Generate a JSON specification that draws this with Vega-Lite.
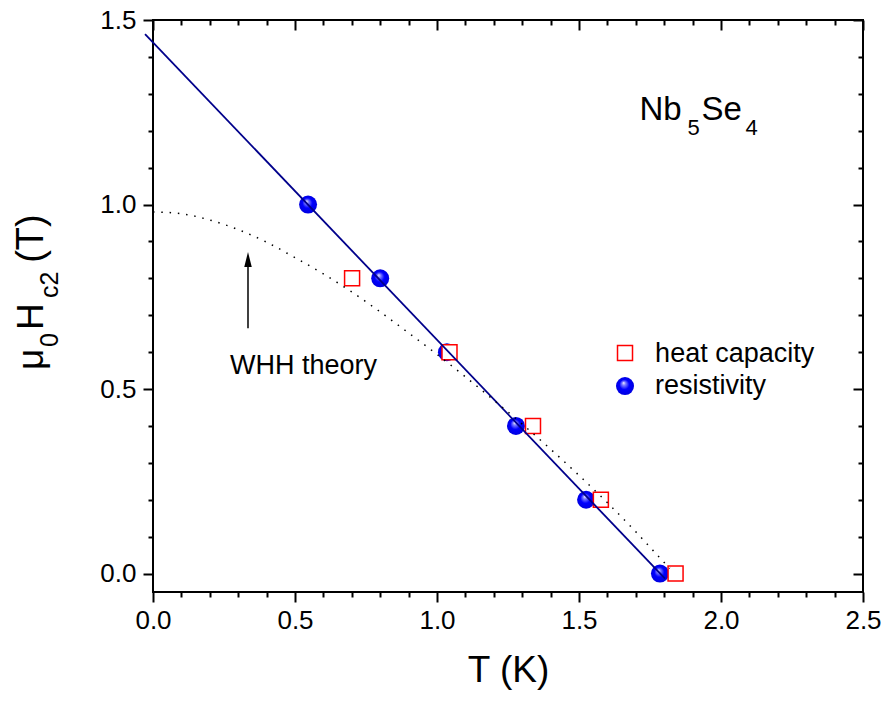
{
  "$schema": "https://vega.github.io/schema/vega-lite/v6.json",
  "width": 710,
  "height": 572,
  "autosize": {"type": "none"},
  "padding": {"left": 153, "top": 20, "right": 21, "bottom": 110},
  "background": "white",
  "config": {
    "view": {"stroke": "black", "strokeWidth": 2},
    "axis": {
      "domain": false,
      "grid": false,
      "tickColor": "black",
      "tickWidth": 2,
      "labelColor": "black",
      "labelFont": "Liberation Sans",
      "labelFontSize": 26,
      "labelFlush": false,
      "labelOverlap": false,
      "labelBound": false,
      "titleFont": "Liberation Sans",
      "titleFontWeight": "normal",
      "titleColor": "black"
    },
    "text": {"font": "Liberation Sans", "color": "black", "align": "left", "baseline": "alphabetic"}
  },
  "resolve": {"axis": {"x": "independent", "y": "independent"}},
  "datasets": {
    "res": [
      {"T": 0.546, "H": 1.0},
      {"T": 0.80, "H": 0.80},
      {"T": 1.035, "H": 0.60},
      {"T": 1.278, "H": 0.40},
      {"T": 1.525, "H": 0.20},
      {"T": 1.785, "H": 0.0}
    ],
    "hc": [
      {"T": 0.701, "H": 0.80},
      {"T": 1.044, "H": 0.60},
      {"T": 1.338, "H": 0.40},
      {"T": 1.577, "H": 0.20},
      {"T": 1.84, "H": 0.0}
    ],
    "fit": [
      {"T": -0.028, "H": 1.462},
      {"T": 1.803, "H": -0.014}
    ],
    "whh": [
      {"T": 0.0, "H": 0.98},
      {"T": 0.1, "H": 0.975},
      {"T": 0.2, "H": 0.958},
      {"T": 0.3, "H": 0.932},
      {"T": 0.4, "H": 0.898},
      {"T": 0.5, "H": 0.856},
      {"T": 0.6, "H": 0.812},
      {"T": 0.7, "H": 0.763},
      {"T": 0.8, "H": 0.709},
      {"T": 0.9, "H": 0.652},
      {"T": 1.0, "H": 0.594},
      {"T": 1.1, "H": 0.533},
      {"T": 1.2, "H": 0.47},
      {"T": 1.3, "H": 0.405},
      {"T": 1.4, "H": 0.337},
      {"T": 1.5, "H": 0.266},
      {"T": 1.6, "H": 0.192},
      {"T": 1.7, "H": 0.113},
      {"T": 1.8, "H": 0.03},
      {"T": 1.82, "H": 0.014}
    ],
    "one": [{}]
  },
  "layer": [
    {
      "data": {"name": "res"},
      "mark": {
        "type": "point", "shape": "circle", "filled": true, "size": 324, "opacity": 1, "strokeWidth": 0,
        "fill": {"gradient": "radial", "x1": 0.42, "y1": 0.32, "r1": 0, "x2": 0.5, "y2": 0.5, "r2": 0.5,
          "stops": [{"offset": 0, "color": "#f4f4ff"}, {"offset": 0.2, "color": "#8080ff"}, {"offset": 0.55, "color": "#0000ff"}, {"offset": 1, "color": "#0000e0"}]}
      },
      "encoding": {
        "x": {"field": "T", "type": "quantitative",
          "scale": {"domain": [0, 2.5], "nice": false, "zero": false},
          "axis": {"orient": "bottom", "title": "T (K)", "titleFontSize": 37, "titlePadding": 19,
            "labelFontSize": 26, "labelFont": "Liberation Sans",
            "values": [0,0.1,0.2,0.3,0.4,0.5,0.6,0.7,0.8,0.9,1.0,1.1,1.2,1.3,1.4,1.5,1.6,1.7,1.8,1.9,2.0,2.1,2.2,2.3,2.4,2.5],
            "labelExpr": "abs(datum.value*2 - round(datum.value*2)) < 0.01 ? format(datum.value, '.1f') : ''",
            "tickSize": {"condition": {"test": "abs(datum.value*2 - round(datum.value*2)) < 0.01", "value": 10}, "value": 5},
            "labelPadding": 5}},
        "y": {"field": "H", "type": "quantitative",
          "scale": {"domain": [-0.05, 1.5], "nice": false, "zero": false},
          "axis": {"orient": "left", "title": null,
            "labelFontSize": 26, "labelFont": "Liberation Sans",
            "values": [0,0.1,0.2,0.3,0.4,0.5,0.6,0.7,0.8,0.9,1.0,1.1,1.2,1.3,1.4,1.5],
            "labelExpr": "abs(datum.value*2 - round(datum.value*2)) < 0.01 ? format(datum.value, '.1f') : ''",
            "tickSize": {"condition": {"test": "abs(datum.value*2 - round(datum.value*2)) < 0.01", "value": 10}, "value": 5},
            "labelPadding": 7}}
      }
    },
    {
      "data": {"name": "hc"},
      "mark": {"type": "point", "shape": "square", "filled": true, "fill": "white", "stroke": "#ff0000", "strokeWidth": 1.5, "size": 225, "opacity": 1},
      "encoding": {
        "x": {"field": "T", "type": "quantitative",
          "scale": {"domain": [0, 2.5], "nice": false, "zero": false},
          "axis": {"orient": "top", "title": null, "labels": false,
            "values": [0,0.1,0.2,0.3,0.4,0.5,0.6,0.7,0.8,0.9,1.0,1.1,1.2,1.3,1.4,1.5,1.6,1.7,1.8,1.9,2.0,2.1,2.2,2.3,2.4,2.5],
            "tickSize": {"condition": {"test": "abs(datum.value*2 - round(datum.value*2)) < 0.01", "value": -10}, "value": -5}}},
        "y": {"field": "H", "type": "quantitative",
          "scale": {"domain": [-0.05, 1.5], "nice": false, "zero": false},
          "axis": {"orient": "right", "title": null, "labels": false,
            "values": [0,0.1,0.2,0.3,0.4,0.5,0.6,0.7,0.8,0.9,1.0,1.1,1.2,1.3,1.4,1.5],
            "tickSize": {"condition": {"test": "abs(datum.value*2 - round(datum.value*2)) < 0.01", "value": -10}, "value": -5}}}
      }
    },
    {
      "data": {"name": "fit"},
      "mark": {"type": "line", "color": "#00008b", "strokeWidth": 1.8},
      "encoding": {
        "x": {"field": "T", "type": "quantitative", "axis": null},
        "y": {"field": "H", "type": "quantitative", "axis": null}
      }
    },
    {
      "data": {"name": "whh"},
      "mark": {"type": "line", "color": "black", "strokeWidth": 1.5, "strokeDash": [1.5, 6.8], "interpolate": "monotone"},
      "encoding": {
        "x": {"field": "T", "type": "quantitative", "axis": null},
        "y": {"field": "H", "type": "quantitative", "axis": null}
      }
    },
    {
      "data": {"name": "one"},
      "mark": {"type": "rule", "color": "black", "strokeWidth": 1.5},
      "encoding": {
        "x": {"datum": 0.3345, "type": "quantitative", "axis": null},
        "y": {"datum": 0.665, "type": "quantitative", "axis": null},
        "y2": {"datum": 0.844}
      }
    },
    {
      "data": {"name": "one"},
      "mark": {"type": "point", "shape": "M0,-1L0.5,1L-0.5,1Z", "filled": true, "color": "black", "size": 225, "opacity": 1, "strokeWidth": 0},
      "encoding": {
        "x": {"datum": 0.3345, "type": "quantitative", "axis": null},
        "y": {"datum": 0.851, "type": "quantitative", "axis": null}
      }
    },
    {
      "data": {"name": "one"},
      "mark": {"type": "text", "text": "WHH theory", "fontSize": 27},
      "encoding": {
        "x": {"datum": 0.271, "type": "quantitative", "axis": null},
        "y": {"datum": 0.5407, "type": "quantitative", "axis": null}
      }
    },
    {
      "data": {"name": "one"},
      "mark": {"type": "text", "text": "Nb", "fontSize": 33},
      "encoding": {
        "x": {"datum": 1.713, "type": "quantitative", "axis": null},
        "y": {"datum": 1.229, "type": "quantitative", "axis": null}
      }
    },
    {
      "data": {"name": "one"},
      "mark": {"type": "text", "text": "5", "fontSize": 22},
      "encoding": {
        "x": {"datum": 1.882, "type": "quantitative", "axis": null},
        "y": {"datum": 1.188, "type": "quantitative", "axis": null}
      }
    },
    {
      "data": {"name": "one"},
      "mark": {"type": "text", "text": "Se", "fontSize": 33},
      "encoding": {
        "x": {"datum": 1.931, "type": "quantitative", "axis": null},
        "y": {"datum": 1.229, "type": "quantitative", "axis": null}
      }
    },
    {
      "data": {"name": "one"},
      "mark": {"type": "text", "text": "4", "fontSize": 22},
      "encoding": {
        "x": {"datum": 2.086, "type": "quantitative", "axis": null},
        "y": {"datum": 1.188, "type": "quantitative", "axis": null}
      }
    },
    {
      "data": {"name": "one"},
      "mark": {"type": "point", "shape": "square", "filled": true, "fill": "white", "stroke": "#ff0000", "strokeWidth": 1.5, "size": 225, "opacity": 1},
      "encoding": {
        "x": {"datum": 1.662, "type": "quantitative", "axis": null},
        "y": {"datum": 0.5976, "type": "quantitative", "axis": null}
      }
    },
    {
      "data": {"name": "one"},
      "mark": {
        "type": "point", "shape": "circle", "filled": true, "size": 324, "opacity": 1, "strokeWidth": 0,
        "fill": {"gradient": "radial", "x1": 0.42, "y1": 0.32, "r1": 0, "x2": 0.5, "y2": 0.5, "r2": 0.5,
          "stops": [{"offset": 0, "color": "#f4f4ff"}, {"offset": 0.2, "color": "#8080ff"}, {"offset": 0.55, "color": "#0000ff"}, {"offset": 1, "color": "#0000e0"}]}
      },
      "encoding": {
        "x": {"datum": 1.662, "type": "quantitative", "axis": null},
        "y": {"datum": 0.508, "type": "quantitative", "axis": null}
      }
    },
    {
      "data": {"name": "one"},
      "mark": {"type": "text", "text": "heat capacity", "fontSize": 27},
      "encoding": {
        "x": {"datum": 1.768, "type": "quantitative", "axis": null},
        "y": {"datum": 0.573, "type": "quantitative", "axis": null}
      }
    },
    {
      "data": {"name": "one"},
      "mark": {"type": "text", "text": "resistivity", "fontSize": 27},
      "encoding": {
        "x": {"datum": 1.768, "type": "quantitative", "axis": null},
        "y": {"datum": 0.4865, "type": "quantitative", "axis": null}
      }
    },
    {
      "data": {"name": "one"},
      "mark": {"type": "text", "text": "μ", "fontSize": 37, "angle": 270},
      "encoding": {
        "x": {"datum": -0.387, "type": "quantitative", "axis": null},
        "y": {"datum": 0.5515, "type": "quantitative", "axis": null}
      }
    },
    {
      "data": {"name": "one"},
      "mark": {"type": "text", "text": "0", "fontSize": 25, "angle": 270},
      "encoding": {
        "x": {"datum": -0.335, "type": "quantitative", "axis": null},
        "y": {"datum": 0.614, "type": "quantitative", "axis": null}
      }
    },
    {
      "data": {"name": "one"},
      "mark": {"type": "text", "text": "H", "fontSize": 37, "angle": 270},
      "encoding": {
        "x": {"datum": -0.387, "type": "quantitative", "axis": null},
        "y": {"datum": 0.66, "type": "quantitative", "axis": null}
      }
    },
    {
      "data": {"name": "one"},
      "mark": {"type": "text", "text": "c2", "fontSize": 25, "angle": 270},
      "encoding": {
        "x": {"datum": -0.335, "type": "quantitative", "axis": null},
        "y": {"datum": 0.747, "type": "quantitative", "axis": null}
      }
    },
    {
      "data": {"name": "one"},
      "mark": {"type": "text", "text": "(T)", "fontSize": 38, "angle": 270},
      "encoding": {
        "x": {"datum": -0.387, "type": "quantitative", "axis": null},
        "y": {"datum": 0.842, "type": "quantitative", "axis": null}
      }
    }
  ]
}
